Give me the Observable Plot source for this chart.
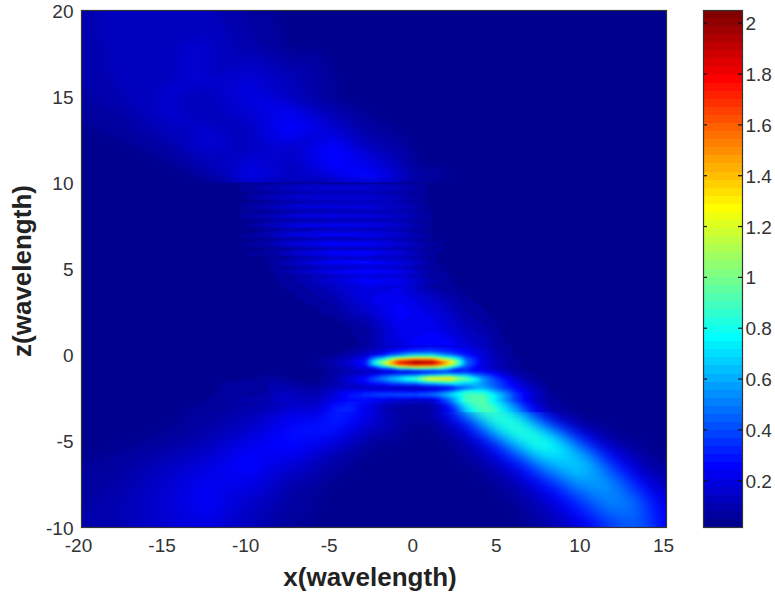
<!DOCTYPE html>
<html><head><meta charset="utf-8">
<script src="https://cdn.jsdelivr.net/npm/d3@7"></script>
<script src="https://cdn.jsdelivr.net/npm/@observablehq/plot@0.6"></script>
<style>
html,body{margin:0;padding:0;background:#fff;width:775px;height:595px;overflow:hidden}
#chart{position:relative;width:775px;height:595px}
#chart svg{position:absolute;left:0;top:0;background:transparent}
</style></head><body><div id="chart"></div>
<script>
// Tick labels
const xTicks = [-20,-15,-10,-5,0,5,10,15];
const zTicks = [-10,-5,0,5,10,15,20];
const barTicks = [0.2,0.4,0.6,0.8,1,1.2,1.4,1.6,1.8,2];
const valueDomain = [0.016,2.05];

// Upper region (z above 10)
const upperX = [-20,-17.5,-15,-12.5,-10,-7.5,-5,-2.5,0,2.5,5,7.5,10,12.5,15];
const upperZ = [20,18,16,15,14,13,12,11,10];
const upperV = [
[.10,.13,.14,.12,.07,.03,.03,.03,.03,.03,.03,.03,.03,.03,.03],
[.10,.12,.14,.15,.09,.04,.03,.03,.03,.03,.03,.03,.03,.03,.03],
[.08,.12,.14,.15,.18,.12,.05,.03,.03,.03,.03,.03,.03,.03,.03],
[.07,.11,.15,.13,.20,.13,.05,.03,.03,.03,.03,.03,.03,.03,.03],
[.05,.08,.15,.13,.16,.23,.11,.04,.03,.03,.03,.03,.03,.03,.03],
[.04,.06,.12,.15,.13,.26,.18,.06,.03,.03,.03,.03,.03,.03,.03],
[.03,.04,.07,.16,.13,.15,.27,.12,.04,.03,.03,.03,.03,.03,.03],
[.03,.03,.04,.11,.19,.13,.25,.20,.05,.03,.03,.03,.03,.03,.03],
[.03,.03,.03,.05,.23,.15,.16,.29,.10,.03,.03,.03,.03,.03,.03]];

// Striped region (z 4 to 10)
const stripeX = [-11,-9,-7,-5,-3,-1,1];
const stripeZ = [9.97,9.7,9.43,9.16,8.89,8.62,8.35,8.08,7.81,7.54,7.27,7.0,6.73,6.46,6.19,5.92,5.65,5.38,5.11,4.84,4.57,4.3,4.03];
const stripeV = [
[.03,.06,.10,.12,.12,.09,.03],[.03,.10,.15,.16,.16,.12,.04],
[.03,.06,.10,.12,.12,.09,.03],[.03,.12,.17,.18,.17,.12,.04],
[.03,.05,.10,.12,.13,.10,.03],[.03,.11,.19,.20,.19,.13,.04],
[.03,.05,.09,.11,.12,.10,.04],[.03,.11,.20,.21,.20,.14,.05],
[.03,.05,.09,.11,.11,.10,.04],[.03,.11,.21,.23,.22,.15,.05],
[.03,.05,.09,.11,.11,.10,.04],[.03,.10,.21,.25,.23,.16,.05],
[.03,.05,.09,.12,.13,.11,.04],[.03,.09,.20,.26,.25,.17,.06],
[.03,.04,.09,.13,.14,.12,.05],[.03,.07,.18,.27,.27,.19,.06],
[.03,.04,.09,.14,.15,.13,.05],[.03,.05,.15,.25,.28,.20,.07],
[.03,.04,.08,.14,.17,.15,.05],[.03,.04,.13,.22,.27,.22,.08],
[.03,.03,.08,.14,.19,.17,.06],[.03,.03,.09,.17,.26,.23,.09],
[.03,.03,.07,.14,.21,.20,.07]];

// Beam above the focus (z 1 to 3.5)
const neckX = [-11,-9,-7,-5,-3,-1,1,3,5];
const neckZ = [3.4,2.7,2,1.4,0.9];
const neckV = [
[.03,.03,.05,.10,.20,.23,.13,.05,.03],
[.03,.03,.03,.06,.16,.25,.18,.07,.03],
[.03,.03,.03,.04,.10,.24,.22,.10,.04],
[.03,.03,.03,.03,.06,.22,.24,.13,.05],
[.03,.03,.03,.03,.05,.19,.25,.15,.05]];

// Focus and fringes
const focusX = [-6,-5,-4,-3,-2,-1,0,1,2,3,4,5,6,7,8];
const focusZ = [.5,.25,0,-.2,-.43,-.65,-.95,-1.15,-1.36,-1.6,-1.9,-2.1,-2.3,-2.6,-3];
const focusV = [
[.03,.03,.04,.08,.14,.20,.25,.27,.26,.20,.14,.07,.04,.03,.03],
[.03,.03,.05,.10,.17,.26,.32,.34,.30,.24,.16,.08,.04,.03,.03],
[.03,.05,.09,.16,.28,.50,.70,.72,.50,.30,.17,.09,.04,.03,.03],
[.04,.07,.13,.24,.70,1.20,1.40,1.35,.95,.42,.18,.10,.05,.03,.03],
[.05,.10,.18,.32,1.15,1.90,2.10,2.05,1.45,.50,.20,.10,.05,.04,.03],
[.04,.07,.13,.26,.70,1.25,1.45,1.35,1.00,.42,.18,.10,.05,.03,.03],
[.03,.06,.10,.10,.10,.12,.15,.20,.25,.30,.25,.15,.07,.03,.03],
[.03,.07,.14,.20,.35,.45,.50,.65,.75,.62,.42,.25,.10,.05,.03],
[.03,.08,.18,.30,.52,.72,.95,1.38,1.42,1.02,.58,.32,.15,.06,.03],
[.04,.08,.16,.25,.35,.47,.55,.72,.82,.70,.55,.38,.20,.08,.03],
[.07,.12,.14,.12,.10,.08,.06,.10,.20,.42,.58,.40,.25,.12,.04],
[.08,.15,.22,.25,.25,.25,.25,.30,.48,.80,.78,.52,.30,.15,.05],
[.10,.18,.28,.36,.42,.45,.45,.50,.68,.90,.92,.66,.36,.17,.06],
[.12,.20,.27,.27,.20,.15,.12,.15,.45,.90,.95,.65,.36,.16,.07],
[.16,.28,.33,.20,.10,.06,.05,.06,.25,.75,.95,.78,.50,.22,.08]];

// Lower beams
const lowerX = [-20,-17.5,-15,-12.5,-10,-7.5,-5,-2.5,0,1,2,3,4,5,6,7,8,9,10,11,12,13,14,15];
const lowerZ = [-3.5,-4,-4.5,-5,-5.5,-6.5,-7.5,-8.6,-10];
const lowerV = [
[.03,.03,.04,.06,.11,.22,.33,.25,.08,.10,.24,.45,.80,.92,.75,.42,.18,.06,.03,.03,.03,.03,.03,.03],
[.03,.03,.04,.07,.13,.25,.31,.16,.04,.04,.12,.28,.55,.82,.90,.65,.36,.14,.05,.03,.03,.03,.03,.03],
[.03,.03,.05,.09,.16,.28,.29,.10,.03,.03,.08,.18,.40,.68,.88,.88,.66,.40,.18,.07,.04,.03,.03,.03],
[.03,.04,.06,.11,.20,.27,.20,.06,.03,.03,.04,.11,.24,.45,.68,.85,.80,.58,.32,.14,.07,.04,.03,.03],
[.03,.05,.08,.14,.25,.26,.14,.04,.03,.03,.03,.07,.14,.28,.50,.72,.80,.74,.54,.30,.14,.07,.04,.03],
[.05,.07,.13,.20,.28,.17,.06,.03,.03,.03,.03,.03,.06,.12,.22,.38,.56,.67,.68,.54,.33,.17,.09,.05],
[.06,.09,.16,.24,.21,.09,.04,.03,.03,.03,.03,.03,.03,.06,.10,.18,.30,.44,.56,.60,.52,.35,.19,.10],
[.07,.11,.17,.25,.15,.07,.03,.03,.03,.03,.03,.03,.03,.03,.05,.09,.16,.25,.36,.48,.54,.49,.34,.18],
[.09,.11,.17,.20,.12,.05,.03,.03,.03,.03,.03,.03,.03,.03,.03,.05,.07,.12,.19,.29,.38,.45,.38,.24]];

// Flat background beside the beams
const sideHighX = [-20,-16,-13,3,6,10,15];
const sideHighZ = [9.97,7,4.5];
const sideHighV = [[.03,.03,.03,.03,.03,.03,.03],[.03,.03,.03,.03,.03,.03,.03],[.03,.03,.03,.03,.03,.03,.03]];
const sideMidX = [-20,-16,-13,8,11,15];
const sideMidZ = [3.4,.9];
const sideMidV = [[.03,.03,.03,.03,.03,.03],[.03,.03,.03,.03,.03,.03]];
const sideLowX = [-20,-16,-12,-9,10,12,15];
const sideLowZ = [.5,-1,-3];
const sideLowV = [[.03,.03,.03,.03,.03,.03,.03],[.03,.03,.03,.04,.03,.03,.03],[.03,.03,.06,.11,.03,.03,.03]];

const toPoints = (xs,zs,vs) => zs.flatMap((z,r) => xs.map((x,c) => ({x,z,v:vs[r][c]})));
const upperPts = toPoints(upperX,upperZ,upperV);
const stripePts = [...toPoints(stripeX,stripeZ,stripeV),...toPoints(neckX,neckZ,neckV),...toPoints(sideHighX,sideHighZ,sideHighV),...toPoints(sideMidX,sideMidZ,sideMidV)];
const focusPts = [...toPoints(focusX,focusZ,focusV),...toPoints(sideLowX,sideLowZ,sideLowV)];
const lowerPts = toPoints(lowerX,lowerZ,lowerV);

// MATLAB jet colormap, 64 steps
const jet = t => {
  const k = Math.min(63, Math.max(0, Math.floor(t*64)));
  const f = v => Math.round(255*Math.max(0,Math.min(1,v)));
  const u = (k+1)/64;
  const r = Math.min(4*u-1.5, -4*u+4.5);
  const g = Math.min(4*u-0.5, -4*u+3.5);
  const b = Math.min(4*u+0.5, -4*u+2.5);
  return `rgb(${f(r)},${f(g)},${f(b)})`;
};
const colorScale = {type:"linear",domain:valueDomain,interpolate:jet,clamp:true};
const font = {fontFamily:"'Liberation Sans',Arial,sans-serif",fontSize:"19px",color:"#333",background:"transparent"};
const vMargins = {marginTop:10,marginBottom:68,height:595,width:775};
const layer = (data,y1,y2,blur) => Plot.raster(data,{x:"x",y:"z",fill:"v",x1:-20,x2:15,y1,y2,interpolate:"barycentric",pixelSize:1,blur});

const main = Plot.plot({
  ...vMargins, marginLeft:81, marginRight:109, style:font,
  x:{domain:[-20,15],ticks:xTicks},
  y:{domain:[-10,20],ticks:zTicks},
  color:colorScale,
  marks:[
    layer(upperPts,9.9,20,4),
    layer([...stripePts,...focusPts.filter(d=>d.z>=.5)],.4,10,0),
    layer([...focusPts.filter(d=>d.z<=-1.15),...lowerPts],-10,-1.6,6),
    layer([...focusPts.filter(d=>d.z<=-1.15),...lowerPts],-3.3,-1.5,3),
    layer([...focusPts,...lowerPts.filter(d=>d.z===-3.5)],-2.7,.5,1),
    Plot.frame({stroke:"#333",strokeWidth:1.2}),
    Plot.axisX(xTicks,{tickSize:0,tickPadding:11,dx:-3,tickFormat:d=>String(d),label:null,fill:"#333"}),
    Plot.axisY(zTicks,{tickSize:0,tickPadding:8,dy:1,tickFormat:d=>String(d),label:null,fill:"#333"}),
    Plot.text(["x(wavelength)"],{frameAnchor:"bottom",dy:50,fontSize:26,fontWeight:"bold",fill:"#222",lineAnchor:"middle",dx:-4}),
    Plot.text(["z(wavelength)"],{frameAnchor:"left",dx:-59,dy:2,rotate:-90,fontSize:26,fontWeight:"bold",fill:"#222",lineAnchor:"middle",textAnchor:"middle"})
  ]
});

const levelStep = (valueDomain[1]-valueDomain[0])/64;
const levels = d3.range(64).map(i => ({lo:valueDomain[0]+i*levelStep, hi:valueDomain[0]+(i+1)*levelStep}));
const bar = Plot.plot({
  ...vMargins, marginLeft:703, marginRight:33, style:font,
  x:{domain:[0,1],axis:null},
  y:{domain:valueDomain,ticks:barTicks},
  color:colorScale,
  marks:[
    Plot.rect(levels,{x1:()=>0,x2:()=>1,y1:"lo",y2:"hi",fill:d=>(d.lo+d.hi)/2,inset:0,shapeRendering:"crispEdges"}),
    Plot.tickY(barTicks,{y:d=>d,stroke:"#111",insetRight:35,strokeWidth:1.2}),
    Plot.tickY(barTicks,{y:d=>d,stroke:"#111",insetLeft:35,strokeWidth:1.2}),
    Plot.frame({stroke:"#333",strokeWidth:1.2}),
    Plot.axisY(barTicks,{anchor:"right",tickSize:0,tickPadding:3,dy:1,tickFormat:d=>String(d),label:null,fill:"#333"})
  ]
});
const host = document.getElementById("chart");
host.append(main, bar);
</script></body></html>
